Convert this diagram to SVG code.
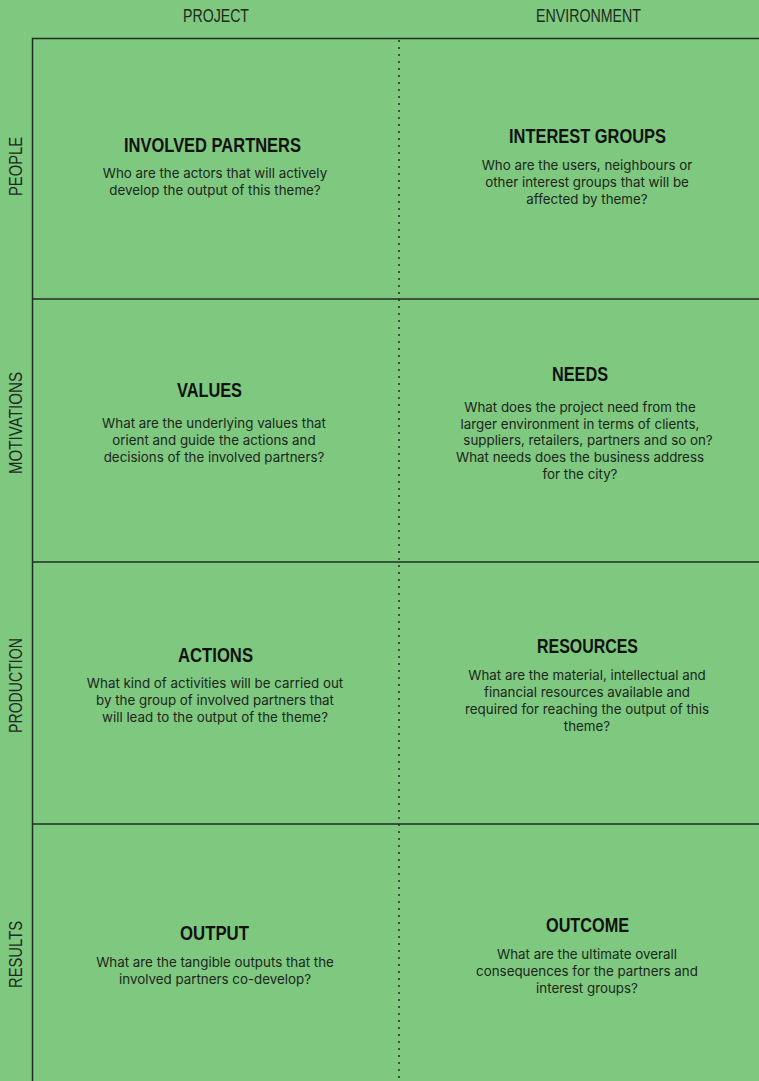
<svg xmlns="http://www.w3.org/2000/svg" width="759" height="1081" viewBox="0 0 759 1081">
<style>
.hdr{font-family:"Liberation Sans",Arial,sans-serif;font-size:17.5px;fill:#1e2a1e;text-anchor:middle}
.ttl{font-family:"Liberation Sans",Arial,sans-serif;font-weight:bold;font-size:20px;fill:#111;text-anchor:middle}
.body{font-family:Inter,"Liberation Sans",Arial,sans-serif;font-size:13.35px;fill:#1c261c;text-anchor:middle}
.ln{stroke:#1f2e22;stroke-width:1.5;fill:none}
.dot{stroke:#1f2e22;stroke-width:1.5;stroke-dasharray:2 5;fill:none}
</style>
<rect width="759" height="1081" fill="#7ec87f"/>
<g id="connectors">
<path class="ln" d="M32.5 1081V38.5H759"/>
<path class="ln" d="M32 299H759M32 562H759M32 824H759"/>
<path class="dot" d="M399 40V1081"/>
</g>
<g id="headers">
<text class="hdr" x="216" y="22" textLength="66" lengthAdjust="spacingAndGlyphs">PROJECT</text>
<text class="hdr" x="588.5" y="22" textLength="105" lengthAdjust="spacingAndGlyphs">ENVIRONMENT</text>
<text class="hdr" transform="translate(22,166.5) rotate(-90)" textLength="59" lengthAdjust="spacingAndGlyphs">PEOPLE</text>
<text class="hdr" transform="translate(22,423) rotate(-90)" textLength="102" lengthAdjust="spacingAndGlyphs">MOTIVATIONS</text>
<text class="hdr" transform="translate(22,685.5) rotate(-90)" textLength="95" lengthAdjust="spacingAndGlyphs">PRODUCTION</text>
<text class="hdr" transform="translate(22,954.5) rotate(-90)" textLength="67" lengthAdjust="spacingAndGlyphs">RESULTS</text>
</g>
<g id="involved-partners">
<text class="ttl" x="212.5" y="152" textLength="177" lengthAdjust="spacingAndGlyphs">INVOLVED PARTNERS</text>
<text class="body" x="215" y="177.5">Who are the actors that will actively</text>
<text class="body" x="215" y="194.5">develop the output of this theme?</text>
</g>
<g id="interest-groups">
<text class="ttl" x="587.5" y="143" textLength="157" lengthAdjust="spacingAndGlyphs">INTEREST GROUPS</text>
<text class="body" x="587" y="169.5">Who are the users, neighbours or</text>
<text class="body" x="587" y="186.5">other interest groups that will be</text>
<text class="body" x="587" y="203.5">affected by theme?</text>
</g>
<g id="values">
<text class="ttl" x="209.5" y="397" textLength="65" lengthAdjust="spacingAndGlyphs">VALUES</text>
<text class="body" x="214" y="427.5">What are the underlying values that</text>
<text class="body" x="214" y="444.5">orient and guide the actions and</text>
<text class="body" x="214" y="461.5">decisions of the involved partners?</text>
</g>
<g id="needs">
<text class="ttl" x="580" y="381" textLength="56" lengthAdjust="spacingAndGlyphs">NEEDS</text>
<text class="body" x="580" y="411.5">What does the project need from the</text>
<text class="body" x="580" y="428.5">larger environment in terms of clients,</text>
<text class="body" x="588" y="444.5">suppliers, retailers, partners and so on?</text>
<text class="body" x="580" y="461.5">What needs does the business address</text>
<text class="body" x="580" y="478.5">for the city?</text>
</g>
<g id="actions">
<text class="ttl" x="215.5" y="662" textLength="75" lengthAdjust="spacingAndGlyphs">ACTIONS</text>
<text class="body" x="215" y="687.5">What kind of activities will be carried out</text>
<text class="body" x="215" y="704.5">by the group of involved partners that</text>
<text class="body" x="215" y="721.5">will lead to the output of the theme?</text>
</g>
<g id="resources">
<text class="ttl" x="587.5" y="653" textLength="101" lengthAdjust="spacingAndGlyphs">RESOURCES</text>
<text class="body" x="587" y="679.5">What are the material, intellectual and</text>
<text class="body" x="587" y="696.5">financial resources available and</text>
<text class="body" x="587" y="713.5">required for reaching the output of this</text>
<text class="body" x="587" y="730.5">theme?</text>
</g>
<g id="output">
<text class="ttl" x="214.5" y="940" textLength="69" lengthAdjust="spacingAndGlyphs">OUTPUT</text>
<text class="body" x="215" y="966.5">What are the tangible outputs that the</text>
<text class="body" x="215" y="983.5">involved partners co-develop?</text>
</g>
<g id="outcome">
<text class="ttl" x="587.5" y="932" textLength="83" lengthAdjust="spacingAndGlyphs">OUTCOME</text>
<text class="body" x="587" y="958.5">What are the ultimate overall</text>
<text class="body" x="587" y="975.5">consequences for the partners and</text>
<text class="body" x="587" y="992.5">interest groups?</text>
</g>
</svg>
